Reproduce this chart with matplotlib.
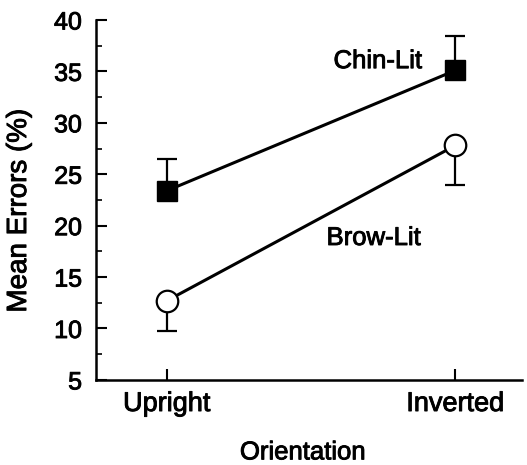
import numpy as np
import matplotlib
matplotlib.use("Agg")
from matplotlib import pyplot as plt
from matplotlib import patheffects as pe
from matplotlib.ticker import MultipleLocator

orientations = ["Upright", "Inverted"]
chin_lit = [23.4, 35.1]
chin_err = [3.1, 3.3]
brow_lit = [12.7, 27.8]
brow_err = [2.9, 3.8]

plt.rcParams['font.family'] = ['Liberation Sans', 'DejaVu Sans']
heavy = [pe.withStroke(linewidth=0.65, foreground='black')]

fig = plt.figure(figsize=(5.27, 4.65), dpi=100)
ax = fig.add_axes([0.182, 0.183, 0.808, 0.774])

x = np.arange(len(orientations))
chin_top = np.array(chin_lit) + np.array(chin_err)
brow_bot = np.array(brow_lit) - np.array(brow_err)

# one-sided error bars: up for chin-lit, down for brow-lit
ax.vlines(x, chin_lit, chin_top, color='black', lw=1.6, zorder=1)
ax.plot(x, chin_top, '_', color='black', markersize=14, markeredgewidth=1.6, zorder=1)
ax.vlines(x, brow_bot, brow_lit, color='black', lw=1.6, zorder=1)
ax.plot(x, brow_bot, '_', color='black', markersize=14, markeredgewidth=1.6, zorder=1)

ax.plot(x, chin_lit, color='black', lw=2.2, zorder=2)
ax.plot(x, chin_lit, 's', color='black', markersize=14, zorder=3)
ax.plot(x, brow_lit, color='black', lw=2.2, zorder=2)
ax.plot(x, brow_lit, 'o', markerfacecolor='white', markeredgecolor='black',
        markeredgewidth=1.6, markersize=15.5, zorder=3)

ax.text(0.731, 36.0, "Chin-Lit", ha='center', va='center', fontsize=18.5,
        path_effects=heavy)
ax.text(0.717, 18.8, "Brow-Lit", ha='center', va='center', fontsize=18.5,
        path_effects=heavy)

ax.set_xlim(-0.246, 1.23)
ax.set_ylim(5, 40)
ax.set_xticks(x)
ax.set_xticklabels(orientations)
ax.yaxis.set_major_locator(MultipleLocator(5))
ax.yaxis.set_minor_locator(MultipleLocator(2.5))

ax.spines['top'].set_visible(False)
ax.spines['right'].set_visible(False)
ax.spines['left'].set_linewidth(1.8)
ax.spines['bottom'].set_linewidth(1.8)

ax.tick_params(axis='both', which='major', direction='in', length=8, width=1.5)
ax.tick_params(axis='y', which='minor', direction='in', length=4, width=1.2)
ax.tick_params(axis='x', pad=8, labelsize=19.5)
ax.tick_params(axis='y', pad=10, labelsize=18)
for lab in ax.get_xticklabels() + ax.get_yticklabels():
    lab.set_path_effects(heavy)

ax.set_xlabel("Orientation", fontsize=18.5, path_effects=heavy)
ax.set_ylabel("Mean Errors (%)", fontsize=20, path_effects=heavy)
ax.xaxis.set_label_coords(0.486, -0.168)
ax.yaxis.set_label_coords(-0.15, 0.47)

fig.savefig("out.png", dpi=100)
